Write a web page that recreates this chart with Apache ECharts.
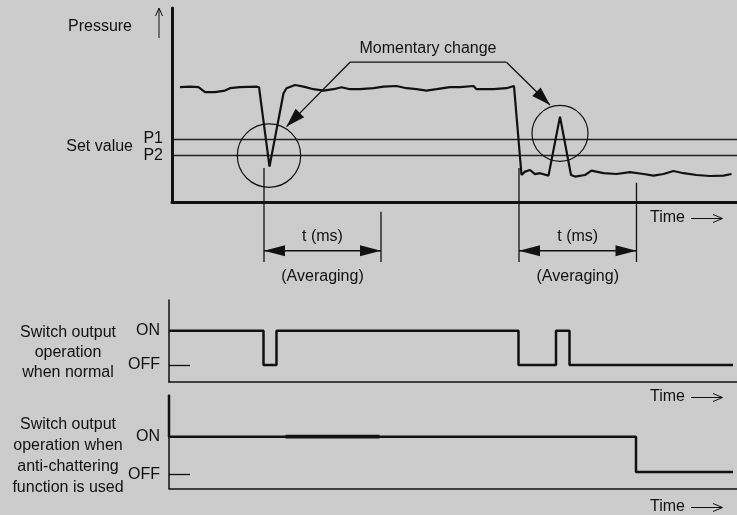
<!DOCTYPE html>
<html><head><meta charset="utf-8">
<script src="https://cdn.jsdelivr.net/npm/echarts@6/dist/echarts.min.js"></script>
<style>html,body{margin:0;padding:0;background:#cccccc}#c{width:737px;height:515px}</style>
</head><body><div id="c"></div>
<script>
// ---- data (time units / pressure units) ----
const pressureT = [1.6,3.6,5.3,6.6,8.6,10.6,11.6,13.6,16.9,17.4,19.5,22.3,22.9,24.6,26.3,28.3,30.3,32.3,33.9,35.6,37.6,40.3,42.3,44.9,46.9,48.9,50.9,52.9,55.6,57.6,60.3,60.9,64.3,66.9,68.4,69.9,70.6,71.6,72.6,73.6,75.3,77.6,79.8,80.6,82.6,83.9,86.3,88.9,91.6,94.3,96.3,98.3,100.3,102.3,104.9,107.6,110.3,111.9];
const pressureP = [57.4,57.7,57.4,54.9,54.9,55.7,56.9,57.4,57.7,57.4,17.7,54.4,56.9,58.5,57.7,56.4,55.7,56.4,57.4,56.4,56.4,56.9,57.7,58.0,56.9,56.4,55.7,56.4,57.4,57.4,58.0,56.4,56.4,56.9,58.0,13.5,15.2,16.0,13.9,14.4,13.2,42.7,13.5,12.7,13.5,15.7,14.4,14.0,14.9,14.0,13.2,14.0,15.5,14.4,13.5,13.0,13.2,14.0];
const setValues = [31.5, 23.2];
const setLabels = ['P1', 'P2'];
const stateValues = [0, 1];
const stateLabels = ['OFF', 'ON'];
const normalT = [-0.6, 18.3, 20.9, 69.3, 76.8, 79.5, 112.2];
const normalS = [1, 0, 1, 0, 1, 0, 0];
const antiT = [-0.6, -0.6, 92.8, 112.2];
const antiS = [2.18, 1, 0, 0];
const antiBoldT = [22.7, 41.5];
const antiBoldS = [1, 1];
// annotations (data units of the pressure panel)
const changePoints = [[19.4, 23.2], [77.6, 34.3]];
const calloutText = 'Momentary change';
const calloutAnchor = [51.2, 76.5];
const calloutBar = [[35.6, 69.9], [66.9, 69.9]];
const calloutTips = [[22.9, 37.7], [75.6, 48.5]];
const markerLines = [[18.4, 17], [41.8, -4.85], [69.4, 17], [92.9, 9.65]];
const markerBottom = -30;
const averagingSpans = [[18.4, 41.8], [69.4, 92.9]];
const spanLevel = -24.4, spanLabelLevel = -17.4, spanNoteLevel = -37.5;
const spanLabel = 't (ms)', spanNote = '(Averaging)';
const timeLabel = 'Time';

const FONT = '"Liberation Sans", Arial, Helvetica, sans-serif';
const INK = '#111';
const chart = echarts.init(document.getElementById('c'), null, {renderer: 'canvas'});
const zip = (a, b) => a.map((v, i) => [v, b[i]]);

function labelMap(values, labels) {
  return v => { const i = values.findIndex(x => Math.abs(x - v) < 1e-6); return i >= 0 ? labels[i] : ''; };
}

const option = {
  backgroundColor: '#cccccc',
  animation: false,
  grid: [
    {left: 172, top: 8, width: 565, height: 194},
    {left: 169, top: 300, width: 568, height: 82},
    {left: 169, top: 395, width: 568, height: 93.6}
  ],
  xAxis: [
    {gridIndex: 0, type: 'value', min: 0, max: 113, axisLine: {onZero: false, lineStyle: {color: INK, width: 3}}, axisTick: {show: false}, axisLabel: {show: false}, splitLine: {show: false}},
    {gridIndex: 1, type: 'value', min: -0.6, max: 113, axisLine: {onZero: false, lineStyle: {color: INK, width: 1.5}}, axisTick: {show: false}, axisLabel: {show: false}, splitLine: {show: false}},
    {gridIndex: 2, type: 'value', min: -0.6, max: 113, axisLine: {onZero: false, lineStyle: {color: INK, width: 1.5}}, axisTick: {show: false}, axisLabel: {show: false}, splitLine: {show: false}}
  ],
  yAxis: [
    {gridIndex: 0, type: 'value', min: 0, max: 97, axisLine: {show: true, onZero: false, lineStyle: {color: INK, width: 3}}, axisTick: {show: false}, splitLine: {show: false},
     axisLabel: {customValues: setValues, formatter: labelMap(setValues, setLabels), fontSize: 16, color: INK, fontFamily: FONT, margin: 9}},
    {gridIndex: 1, type: 'value', min: -0.5, max: 1.9, axisLine: {show: true, onZero: false, lineStyle: {color: INK, width: 1.5}}, splitLine: {show: false},
     axisTick: {show: true, inside: true, length: 21, customValues: [0], lineStyle: {color: INK, width: 1.3}},
     axisLabel: {customValues: stateValues, formatter: labelMap(stateValues, stateLabels), fontSize: 16, color: INK, fontFamily: FONT, margin: 9}},
    {gridIndex: 2, type: 'value', min: -0.47, max: 2.18, axisLine: {show: true, onZero: false, lineStyle: {color: INK, width: 1.5}}, splitLine: {show: false},
     axisTick: {show: true, inside: true, length: 21, customValues: [-0.06], lineStyle: {color: INK, width: 1.3}},
     axisLabel: {customValues: [-0.06, 1], formatter: v => (v > 0.5 ? 'ON' : 'OFF'), fontSize: 16, color: INK, fontFamily: FONT, margin: 9}}
  ],
  series: [
    {type: 'line', xAxisIndex: 0, yAxisIndex: 0, data: zip(pressureT, pressureP), showSymbol: false, lineStyle: {color: INK, width: 2.2}, z: 5,
     markLine: {silent: true, symbol: 'none', label: {show: false}, lineStyle: {color: '#222', width: 1.4, type: 'solid'}, data: setValues.map(v => ({yAxis: v}))}},
    {type: 'line', xAxisIndex: 1, yAxisIndex: 1, data: zip(normalT, normalS), step: 'end', showSymbol: false, lineStyle: {color: INK, width: 2.5}},
    {type: 'line', xAxisIndex: 2, yAxisIndex: 2, data: zip(antiT, antiS), step: 'end', showSymbol: false, lineStyle: {color: INK, width: 2.5}},
    {type: 'line', xAxisIndex: 2, yAxisIndex: 2, data: zip(antiBoldT, antiBoldS), showSymbol: false, lineStyle: {color: INK, width: 3.8}}
  ]
};
chart.setOption(option);

// ---- annotations positioned through the pressure panel's scales ----
const px = p => chart.convertToPixel({gridIndex: 0}, p);
const g = [];
function line(a, b, w) { g.push({type: 'line', shape: {x1: a[0], y1: a[1], x2: b[0], y2: b[1]}, style: {stroke: INK, lineWidth: w || 1.3}, z: 10}); }
function head(tip, from, L, W) {
  const dx = tip[0] - from[0], dy = tip[1] - from[1], d = Math.hypot(dx, dy);
  const ux = dx / d, uy = dy / d, bx = tip[0] - ux * L, by = tip[1] - uy * L;
  g.push({type: 'polygon', shape: {points: [tip, [bx - uy * W, by + ux * W], [bx + uy * W, by - ux * W]]}, style: {fill: INK}, z: 10});
}
function text(t, x, y, align) {
  g.push({type: 'text', x: x, y: y, style: {text: t, fill: INK, font: '16px ' + FONT, align: align || 'center', verticalAlign: 'middle'}, z: 10});
}
// circles
const radii = [31.7, 28];
changePoints.forEach((c, i) => { const p = px(c); g.push({type: 'circle', shape: {cx: p[0], cy: p[1], r: radii[i]}, style: {fill: 'none', stroke: INK, lineWidth: 1.2}, z: 10}); });
// callout
const ca = px(calloutAnchor); text(calloutText, ca[0], ca[1]);
const b0 = px(calloutBar[0]), b1 = px(calloutBar[1]);
line(b0, b1);
const t0 = px(calloutTips[0]), t1 = px(calloutTips[1]);
line(b0, t0); head(t0, b0, 19, 6);
line(b1, t1); head(t1, b1, 19, 6);
// markers and averaging spans
markerLines.forEach(m => line(px(m), px([m[0], markerBottom]), 1.3));
averagingSpans.forEach(s => {
  const a = px([s[0], spanLevel]), b = px([s[1], spanLevel]);
  line(a, b, 1.5); head(a, b, 21, 5.5); head(b, a, 21, 5.5);
  const l = px([(s[0] + s[1]) / 2, spanLabelLevel]); text(spanLabel, l[0], l[1]);
  const n = px([(s[0] + s[1]) / 2, spanNoteLevel]); text(spanNote, n[0], n[1]);
});
// left side labels
text('Pressure', 132, 27, 'right');
line([159, 38], [159, 9], 1);
g.push({type: 'polyline', shape: {points: [[155.5, 16], [159, 8], [162.5, 16]]}, style: {stroke: INK, lineWidth: 1, fill: 'none'}, z: 10});
text('Set value', 133, 147, 'right');
['Switch output', 'operation', 'when normal'].forEach((t, i) => text(t, 68, 333 + i * 20));
['Switch output', 'operation when', 'anti-chattering', 'function is used'].forEach((t, i) => text(t, 68, 425 + i * 21));
[218, 397, 507].forEach(y => {
  text(timeLabel, 650, y, 'left');
  line([691, y + 0.5], [722, y + 0.5], 1);
  g.push({type: 'polyline', shape: {points: [[713, y - 3.5], [722.5, y + 0.5], [713, y + 4.5]]}, style: {stroke: INK, lineWidth: 1, fill: 'none'}, z: 10});
});
chart.setOption({graphic: g});
</script></body></html>
